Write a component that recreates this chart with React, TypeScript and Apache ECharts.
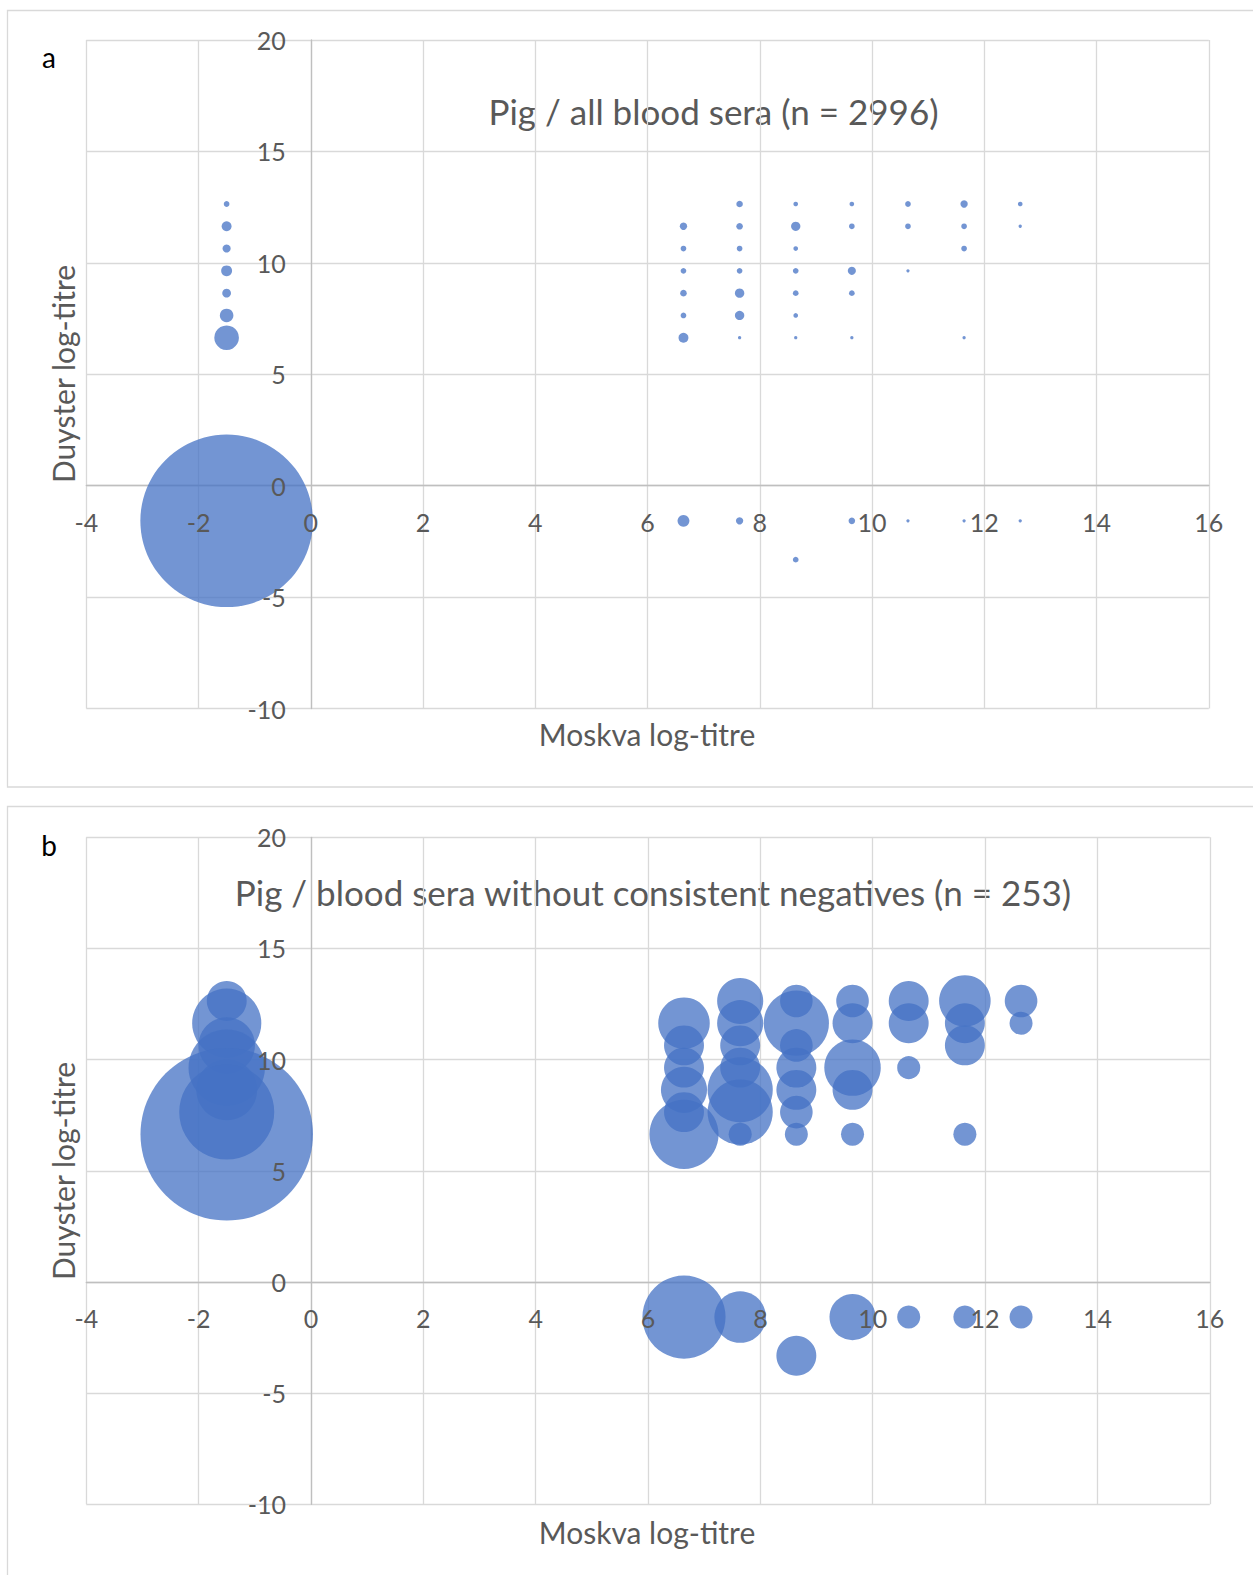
import React, { useEffect, useRef } from "react";
import * as echarts from "echarts";

// Bubble data of panel b (n = 253): Moskva log-titre, Duyster log-titre, count
const moskvaB = [
  -1.5, -1.5, -1.5, -1.5, -1.5, -1.5, -1.5,
  6.64, 6.64, 6.64, 6.64, 6.64, 6.64, 6.64,
  7.64, 7.64, 7.64, 7.64, 7.64, 7.64, 7.64, 7.64,
  8.64, 8.64, 8.64, 8.64, 8.64, 8.64, 8.64, 8.64,
  9.64, 9.64, 9.64, 9.64, 9.64, 9.64,
  10.64, 10.64, 10.64, 10.64,
  11.64, 11.64, 11.64, 11.64, 11.64,
  12.64, 12.64, 12.64,
];
const duysterB = [
  12.64, 11.64, 10.64, 9.64, 8.64, 7.64, 6.64,
  11.64, 10.64, 9.64, 8.64, 7.64, 6.64, -1.58,
  12.64, 11.64, 10.64, 9.64, 8.64, 7.64, 6.64, -1.58,
  12.64, 11.64, 10.64, 9.64, 8.64, 7.64, 6.64, -3.32,
  12.64, 11.64, 9.64, 8.64, 6.64, -1.58,
  12.64, 11.64, 9.64, -1.58,
  12.64, 11.64, 10.64, 6.64, -1.58,
  12.64, 11.64, -1.58,
];
const countB = [
  3, 9, 6, 11, 7, 17, 56,
  5, 3, 3, 4, 3, 9, 13,
  4, 4, 3, 3, 8, 8, 1, 5,
  2, 8, 2, 3, 3, 2, 1, 3,
  2, 3, 6, 3, 1, 4,
  3, 3, 1, 1,
  5, 3, 3, 1, 1,
  2, 1, 1,
];
// Consistent negatives, present only in panel a (n = 2996)
const negMoskva = [-1.5];
const negDuyster = [-1.58];
const negCount = [2743];

const xTickMin = -4, xTickMax = 16, xTickStep = 2;
const yTickMin = -10, yTickMax = 20, yTickStep = 5;

const titleA = "Pig / all blood sera (n = 2996)";
const titleB = "Pig / blood sera without consistent negatives (n = 253)";
const xName = "Moskva log-titre";
const yName = "Duyster log-titre";

const FONT = "Lato, 'Open Sans', sans-serif";
const GRAY = "#595959";
const BUBBLE = "#4472C4";
const BUBBLE_OPACITY = 0.75;
const MAX_D = 172.5;

const GRIDS = [
  { left: 86.3, top: 40, width: 1122.5, height: 668.5 },
  { left: 86.3, top: 837.3, width: 1123.5, height: 667 },
];

export default function App() {
  const ref = useRef<HTMLDivElement>(null);
  useEffect(() => {
    if (!ref.current) return;
    const chart = echarts.init(ref.current, undefined, { renderer: "svg" });

    const dataB = moskvaB.map((x, i) => [x, duysterB[i], countB[i]]);
    const dataA = [
      ...negMoskva.map((x, i) => [x, negDuyster[i], negCount[i]]),
      ...dataB,
    ];
    const maxA = Math.max(...dataA.map((d) => d[2]));
    const maxB = Math.max(...dataB.map((d) => d[2]));

    // offsets that put each axis (line and labels) through the origin
    const zeroOffsetX = (g: number) => {
      const gr = GRIDS[g];
      const zeroY = gr.top + gr.height * (yTickMax / (yTickMax - yTickMin));
      return -(gr.top + gr.height - zeroY);
    };
    const zeroOffsetY = (g: number) => {
      const gr = GRIDS[g];
      return -(gr.width * ((0 - xTickMin) / (xTickMax - xTickMin)));
    };

    // base axes: axis line + gridlines (under bubbles)
    const mkX = (g: number) => ({
      type: "value",
      gridIndex: g,
      min: xTickMin,
      max: xTickMax,
      interval: xTickStep,
      position: "bottom",
      offset: zeroOffsetX(g),
      z: 0,
      axisLine: { show: true, onZero: false, lineStyle: { color: "#bfbfbf", width: 1.3 } },
      axisTick: { show: false },
      axisLabel: { show: false },
      splitLine: { show: true, lineStyle: { color: "#d9d9d9", width: 1.3 } },
    });
    const mkY = (g: number) => ({
      type: "value",
      gridIndex: g,
      min: yTickMin,
      max: yTickMax,
      interval: yTickStep,
      position: "left",
      offset: zeroOffsetY(g),
      z: 0,
      axisLine: { show: true, onZero: false, lineStyle: { color: "#bfbfbf", width: 1.3 } },
      axisTick: { show: false },
      axisLabel: { show: false },
      splitLine: { show: true, lineStyle: { color: "#d9d9d9", width: 1.3 } },
    });
    // label axes: tick labels drawn above the bubbles
    const mkXLabels = (g: number) => ({
      ...mkX(g),
      z: 10,
      axisLine: { show: false, onZero: false },
      splitLine: { show: false },
      axisLabel: { show: true, color: GRAY, fontSize: 25, fontFamily: FONT, margin: 24 },
    });
    const mkYLabels = (g: number) => ({
      ...mkY(g),
      z: 10,
      axisLine: { show: false, onZero: false },
      splitLine: { show: false },
      axisLabel: { show: true, color: GRAY, fontSize: 25, fontFamily: FONT, margin: 25 },
    });

    const txt = (text: string, x: number, y: number, size: number, fill: string, rot = 0) => ({
      type: "text",
      x,
      y,
      rotation: rot,
      silent: true,
      style: {
        text,
        fontSize: size,
        fontFamily: FONT,
        fill,
        textAlign: "center",
        textVerticalAlign: "middle",
      },
    });

    chart.setOption({
      animation: false,
      backgroundColor: "#ffffff",
      grid: GRIDS,
      xAxis: [mkX(0), mkX(1), mkXLabels(0), mkXLabels(1)],
      yAxis: [mkY(0), mkY(1), mkYLabels(0), mkYLabels(1)],
      series: [
        {
          type: "scatter",
          xAxisIndex: 0,
          yAxisIndex: 0,
          data: dataA,
          symbolSize: (v: number[]) => (MAX_D * Math.sqrt(v[2])) / Math.sqrt(maxA),
          itemStyle: { color: BUBBLE, opacity: BUBBLE_OPACITY },
          silent: true,
          clip: false,
          z: 2,
        },
        {
          type: "scatter",
          xAxisIndex: 1,
          yAxisIndex: 1,
          data: dataB,
          symbolSize: (v: number[]) => (MAX_D * Math.sqrt(v[2])) / Math.sqrt(maxB),
          itemStyle: { color: BUBBLE, opacity: BUBBLE_OPACITY },
          silent: true,
          clip: false,
          z: 2,
        },
      ],
      graphic: [
        {
          type: "rect",
          silent: true,
          z: -10,
          shape: { x: 7.5, y: 10.5, width: 1270, height: 776.5 },
          style: { fill: "none", stroke: "#d9d9d9", lineWidth: 1.3 },
        },
        {
          type: "rect",
          silent: true,
          z: -10,
          shape: { x: 7.5, y: 806.5, width: 1270, height: 800 },
          style: { fill: "none", stroke: "#d9d9d9", lineWidth: 1.3 },
        },
        txt("a", 49, 57, 28, "#000000"),
        txt("b", 49, 845, 28, "#000000"),
        txt(titleA, 713.5, 111, 35, GRAY),
        txt(titleB, 653, 892, 35, GRAY),
        txt(xName, 647, 734, 30, GRAY),
        txt(xName, 647, 1532, 30, GRAY),
        txt(yName, 63, 374, 30, GRAY, Math.PI / 2),
        txt(yName, 63, 1171, 30, GRAY, Math.PI / 2),
      ],
    });
    return () => chart.dispose();
  }, []);
  return (
    <div
      ref={ref}
      style={{ position: "absolute", left: 0, top: 0, width: 1253, height: 1575 }}
    />
  );
}
